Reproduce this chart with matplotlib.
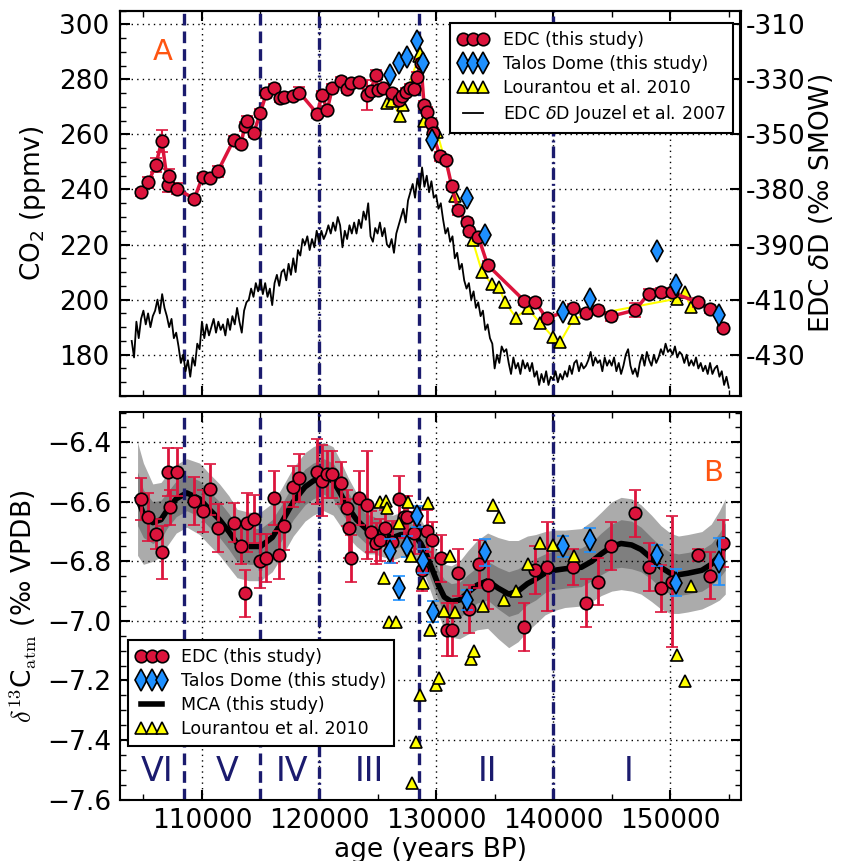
import numpy as np
import matplotlib
matplotlib.use('Agg')
import matplotlib.pyplot as plt
from matplotlib.ticker import MultipleLocator, FixedLocator
from matplotlib.lines import Line2D

# ---------------- Panel A data: CO2 ----------------
edc_co2_age = [104780, 105430, 106060, 106575, 107090, 107200, 107860, 109340, 110050, 110650,
               111370, 112710, 113340, 113650, 113850, 114420, 114990, 115500, 116130, 116640,
               117050, 117790, 118330, 119850, 120240, 120700, 121130, 121900, 122410, 122700,
               123450, 124070, 124410, 124840, 125000, 125500, 126270, 126840, 127120, 127410,
               127780, 128120, 128350, 128700, 128970, 129200, 129550, 129700, 130340, 130830,
               131340, 131890, 132630, 132830, 133600, 134400, 137530, 138480, 139450, 141730,
               142820, 143870, 144900, 147010, 148150, 149240, 150150, 152380, 153370, 154520]
edc_co2 = [239.0, 242.6, 249.0, 257.7, 241.5, 245.0, 240.3, 236.6, 244.6, 244.2,
           246.7, 258.0, 256.6, 262.9, 264.7, 260.5, 267.9, 274.9, 276.7, 273.1,
           273.5, 274.0, 275.2, 267.5, 274.3, 268.9, 276.7, 279.4, 276.4, 278.8,
           279.1, 274.3, 275.9, 281.5, 276.0, 276.7, 275.0, 272.5, 274.0, 275.5,
           276.7, 276.5, 281.0, 285.8, 270.7, 268.3, 264.1, 260.5, 252.0, 250.8,
           241.2, 232.4, 228.1, 224.9, 222.9, 212.6, 199.6, 199.0, 193.2, 196.8,
           195.0, 196.2, 193.9, 196.2, 202.2, 202.8, 202.6, 199.0, 196.6, 189.7]
edc_co2_err = [1.2, 2.0, 2.5, 4.0, 2.5, 2.5, 2.0, 1.5, 1.5, 1.5,
               2.0, 1.5, 1.5, 1.5, 2.0, 1.5, 1.5, 1.5, 1.5, 1.5,
               1.5, 1.5, 2.0, 1.5, 1.5, 1.5, 1.5, 1.5, 1.5, 1.5,
               1.5, 5.5, 1.5, 2.0, 1.5, 1.5, 1.5, 1.5, 1.5, 1.5,
               1.5, 1.5, 1.5, 1.5, 1.5, 1.5, 1.5, 1.5, 1.5, 1.5,
               1.5, 1.5, 1.5, 1.5, 1.5, 1.5, 1.5, 1.5, 1.5, 1.5,
               1.5, 1.5, 1.5, 2.5, 1.5, 1.5, 1.5, 1.5, 1.5, 1.5]

talos_co2_age = [126060, 126800, 127520, 128350, 128920, 129690, 132630, 134170,
                 140820, 143180, 148870, 150520, 154140]
talos_co2 = [281.5, 285.8, 288.1, 293.8, 285.8, 258.0, 237.0, 223.3,
             195.4, 200.2, 217.6, 205.2, 194.5]

lour_co2_age = [125840, 126250, 126920, 127210, 128500, 128640, 129000, 130060, 131630,
                133110, 133910, 134770, 135340, 135880, 136820, 137820, 138900, 139970,
                140590, 141760, 150610, 151240, 151750]
lour_co2 = [271.3, 272.0, 266.8, 270.7, 288.5, 289.5, 265.0, 261.0, 237.5,
            221.6, 210.2, 205.6, 204.6, 199.2, 193.5, 196.8, 191.5, 186.5,
            184.5, 193.2, 200.4, 202.8, 197.2]

# EDC deltaD (Jouzel et al. 2007), regular 0.2 ka sampling starting at 104.0 ka
dD_start_ka = 104.0
dD_step_ka = 0.2
dD = [-425, -431, -418, -424, -417,  -414, -419, -415, -420, -416,
      -414, -410, -415, -408, -413,  -416, -420, -417, -424, -422,
      -427, -433, -430, -436, -432,  -438, -431, -434, -426, -428,
      -418, -424, -419, -423, -420,  -417, -422, -418, -421, -419,
      -423, -417, -421, -416, -419,  -413, -418, -422, -414, -411,
      -410, -406, -409, -404, -407,  -403, -408, -404, -409, -406,
      -412, -404, -401, -405, -400,  -399, -403, -397, -401, -395,
      -400, -392, -394, -388, -390,  -387, -392, -388, -391, -385,
      -389, -385, -388, -386, -383,  -386, -382, -385, -380, -383,
      -391, -385, -388, -383, -386,  -382, -386, -381, -384, -378,
      -381, -375, -387, -389, -384,  -386, -382, -387, -384, -390,
      -391, -388, -393, -386, -383,  -380, -377, -382, -374, -371,
      -368, -373, -366, -370, -362,  -369, -365, -371, -367, -373,
      -372, -377, -375, -381, -386,  -384, -389, -387, -395, -393,
      -399, -397, -403, -406, -404,  -410, -407, -413, -411, -416,
      -414, -421, -419, -424, -426,  -435, -430, -433, -427, -429,
      -428, -433, -437, -431, -435,  -433, -437, -432, -435, -433,
      -436, -433, -438, -436, -441,  -437, -440, -436, -441, -438,
      -439, -436, -440, -437, -439,  -436, -438, -434, -437, -433,
      -432, -436, -433, -435, -434,  -432, -429, -434, -431, -433,
      -432, -436, -431, -434, -432,  -434, -431, -436, -433, -437,
      -434, -430, -428, -434, -437,  -435, -438, -433, -430, -434,
      -429, -432, -434, -430, -433,  -431, -428, -430, -426, -429,
      -428, -430, -427, -431, -429,  -430, -433, -430, -434, -432,
      -434, -431, -435, -433, -436,  -434, -437, -433, -437, -435,
      -434, -438, -436, -441, -438,  -442]

# ---------------- Panel B data: d13C ----------------
edc_d13_age = [104780, 105430, 106060, 106575, 107140, 107230, 107860, 109340, 110090, 110650,
               111370, 112710, 113360, 113650, 113850, 114420, 114990, 115500, 116130, 116620,
               117050, 117790, 118330, 119850, 120240, 120700, 121130, 121900, 122410, 122580,
               122760, 123410, 124070, 124410, 124840, 125210, 125610, 126270, 126830, 127260,
               127550, 128120, 128820, 129200, 129690, 130400, 130920, 131340, 131890, 132830,
               133690, 134460, 137540, 138480, 139450, 141730, 142820, 143870, 144900, 147010,
               148150, 149240, 150150, 152380, 153370, 154520]
edc_d13 = [-6.591, -6.650, -6.709, -6.770, -6.499, -6.619, -6.499, -6.597, -6.630, -6.558,
           -6.689, -6.670, -6.749, -6.908, -6.670, -6.658, -6.799, -6.788, -6.588, -6.779,
           -6.681, -6.549, -6.519, -6.499, -6.529, -6.508, -6.508, -6.536, -6.620, -6.689,
           -6.790, -6.588, -6.611, -6.700, -6.740, -6.728, -6.689, -6.734, -6.592, -6.650,
           -6.650, -6.704, -6.829, -6.697, -6.728, -6.790, -7.029, -7.029, -6.838, -6.960,
           -6.809, -6.880, -7.020, -6.829, -6.818, -6.820, -6.939, -6.868, -6.748, -6.639,
           -6.818, -6.891, -6.868, -6.779, -6.848, -6.740]
edc_d13_err = [0.07, 0.08, 0.05, 0.09, 0.08, 0.06, 0.08, 0.08, 0.07, 0.085,
               0.08, 0.065, 0.06, 0.08, 0.10, 0.08, 0.09, 0.08, 0.09, 0.08,
               0.08, 0.07, 0.08, 0.11, 0.12, 0.08, 0.08, 0.07, 0.06, 0.10,
               0.08, 0.09, 0.18, 0.07, 0.07, 0.07, 0.06, 0.07, 0.08, 0.07,
               0.07, 0.07, 0.07, 0.07, 0.06, 0.08, 0.09, 0.09, 0.08, 0.08,
               0.08, 0.08, 0.08, 0.08, 0.15, 0.06, 0.08, 0.08, 0.08, 0.08,
               0.08, 0.08, 0.22, 0.02, 0.08, 0.08]

talos_d13_age = [126070, 126830, 127550, 128350, 128920, 129720, 132660, 134170,
                 140820, 143180, 148870, 150520, 154140]
talos_d13 = [-6.765, -6.889, -6.749, -6.649, -6.798, -6.969, -6.930, -6.770,
             -6.749, -6.728, -6.779, -6.872, -6.801]
talos_d13_err = [0.04, 0.04, 0.035, 0.035, 0.04, 0.035, 0.035, 0.045,
                 0.035, 0.04, 0.035, 0.045, 0.08]

lour_d13_age = [125210, 125550, 125700, 125840, 125990, 126550, 126830, 127610, 127840, 127980,
                128270, 128640, 128920, 129270, 129490, 129980, 130260, 130690, 131210, 131630,
                132980, 133260, 133970, 134830, 135340, 135820, 136820, 137820, 138900, 139970,
                141760, 150610, 151240, 151750]
lour_d13 = [-6.600, -6.857, -6.596, -6.622, -7.003, -7.003, -6.672, -6.600, -6.782, -7.543,
            -7.406, -7.249, -6.874, -6.603, -7.031, -7.216, -7.193, -6.966, -6.781, -6.969,
            -7.128, -7.100, -6.950, -6.611, -6.650, -6.930, -6.899, -6.810, -6.740, -6.745,
            -6.781, -7.113, -7.201, -6.882]

# MCA spline with 1-sigma / 2-sigma envelopes
mca_age = [104500, 105000, 105800, 106500, 107000, 107800, 108700, 109800, 110500, 111500,
           112300, 113000, 114000, 115000, 116000, 116800, 117800, 118800, 119500, 120400,
           121200, 121800, 122500, 123200, 124000, 124700, 125500, 126300, 127000, 127700,
           128300, 128700, 129200, 129700, 130200, 130700, 131300, 132000, 132700, 133500,
           134400, 135300, 136200, 137000, 137800, 138500, 139300, 140100, 141000, 142400,
           143300, 144100, 145000, 145800, 146700, 147500, 148400, 149200, 150000, 150700,
           151500, 152700, 153500, 154200, 154700]
mca = [-6.59, -6.64, -6.67, -6.66, -6.63, -6.59, -6.57, -6.59, -6.62, -6.66,
       -6.70, -6.74, -6.75, -6.75, -6.72, -6.67, -6.60, -6.55, -6.53, -6.515,
       -6.53, -6.57, -6.62, -6.66, -6.69, -6.695, -6.71, -6.72, -6.71, -6.71,
       -6.72, -6.74, -6.78, -6.83, -6.88, -6.92, -6.935, -6.93, -6.905, -6.88,
       -6.865, -6.89, -6.91, -6.90, -6.875, -6.86, -6.84, -6.83, -6.825, -6.82,
       -6.80, -6.775, -6.75, -6.74, -6.745, -6.76, -6.79, -6.82, -6.84, -6.845,
       -6.84, -6.83, -6.81, -6.78, -6.75]
mca_inner = [0.09, 0.08, 0.07, 0.065, 0.06, 0.06, 0.06, 0.06, 0.06, 0.06,
             0.06, 0.06, 0.06, 0.06, 0.06, 0.06, 0.06, 0.06, 0.06, 0.06,
             0.06, 0.06, 0.05, 0.05, 0.05, 0.045, 0.04, 0.04, 0.04, 0.04,
             0.04, 0.04, 0.045, 0.05, 0.05, 0.06, 0.06, 0.06, 0.06, 0.06,
             0.065, 0.07, 0.075, 0.075, 0.07, 0.07, 0.065, 0.065, 0.065, 0.065,
             0.065, 0.07, 0.075, 0.08, 0.08, 0.075, 0.07, 0.07, 0.07, 0.07,
             0.07, 0.07, 0.07, 0.075, 0.08]
mca_outer = [0.19, 0.17, 0.13, 0.125, 0.12, 0.115, 0.115, 0.12, 0.12, 0.12,
             0.12, 0.115, 0.115, 0.115, 0.115, 0.115, 0.115, 0.115, 0.115, 0.115,
             0.115, 0.11, 0.10, 0.09, 0.085, 0.08, 0.075, 0.075, 0.075, 0.075,
             0.075, 0.08, 0.085, 0.09, 0.10, 0.11, 0.12, 0.13, 0.14, 0.15,
             0.16, 0.17, 0.18, 0.17, 0.16, 0.15, 0.14, 0.135, 0.13, 0.13,
             0.135, 0.14, 0.15, 0.155, 0.155, 0.15, 0.145, 0.14, 0.135, 0.13,
             0.13, 0.13, 0.135, 0.15, 0.16]

# Boundaries and stage labels
bound_dashed = [108500, 115000, 128500]
bound_dashdot = [120000, 140000]
stage_labels = ['VI', 'V', 'IV', 'III', 'II', 'I']
stage_pos = [106150, 112150, 117730, 124320, 134400, 146460]

right_ticks = [-310, -330, -350, -370, -390, -410, -430]
right_ticklabels = ['-310', '-330', '-350', '-380', '-390', '-410', '-430']

# ---------------- styling ----------------
RED = '#DC143C'
BLUE = '#1E90FF'
YEL = '#FFFF00'
NAVY = '#1b1b6e'
ORANGE = '#FF5511'
TICK_FS = 19
LEG_FS = 12.5

plt.rcParams['font.family'] = ['DejaVu Sans']
plt.rcParams['mathtext.fontset'] = 'dejavusans'

fig = plt.figure(figsize=(8.41, 8.61), dpi=100)
ax1 = fig.add_axes([120 / 841, 1 - 396 / 861, 620.5 / 841, 385.5 / 861])
ax2 = fig.add_axes([120 / 841, 1 - 799.5 / 861, 620.5 / 841, 387 / 861])
ax1r = ax1.twinx()

grid_kw = dict(color='k', linestyle=(0, (1, 3)), linewidth=1.0)

# ---------- Panel A ----------
ax1.errorbar(lour_co2_age, lour_co2, fmt='-^', color=YEL, lw=1.5, ms=9,
             mfc=YEL, mec='k', mew=1.2, zorder=3)
ax1.errorbar(edc_co2_age, edc_co2, yerr=edc_co2_err, fmt='-o', color=RED, lw=2.5,
             ms=9, mfc=RED, mec='k', mew=1.2, elinewidth=1.5, capsize=4, capthick=1.5,
             ecolor=RED, zorder=4)
ax1.plot(talos_co2_age, talos_co2, 'd', ms=11, mfc=BLUE, mec='k', mew=1.2,
         linestyle='none', zorder=5)

dD_age = [(dD_start_ka + i * dD_step_ka) * 1000 for i in range(len(dD))]
ax1r.plot(dD_age, dD, color='k', lw=1.3, zorder=2)

ax1.set_xlim(103000, 156000)
ax1.set_ylim(165, 305)
ax1r.set_ylim(-445, -305)
ax1.yaxis.set_major_locator(MultipleLocator(20))
ax1.yaxis.set_minor_locator(MultipleLocator(5))
ax1.xaxis.set_major_locator(MultipleLocator(10000))
ax1.xaxis.set_minor_locator(MultipleLocator(5000))
ax1r.set_yticks(right_ticks)
ax1r.set_yticklabels(right_ticklabels)
ax1.grid(True, which='major', **grid_kw)
ax1.set_ylabel('CO$_2$ (ppmv)', fontsize=TICK_FS, labelpad=8)
ax1r.set_ylabel(r'EDC $\delta$D (‰ SMOW)', fontsize=TICK_FS, labelpad=1)
ax1.text(0.069, 0.892, 'A', transform=ax1.transAxes, color=ORANGE, fontsize=21,
         ha='center', va='center')

ax1.tick_params(which='both', direction='in', top=True, right=False, labelbottom=False)
ax1.tick_params(which='major', length=7, width=1.5, labelsize=TICK_FS, pad=8)
ax1.tick_params(which='minor', length=4, width=1)
ax1r.tick_params(which='both', direction='in', right=True, left=False)
ax1r.tick_params(which='major', length=7, width=1.5, labelsize=TICK_FS, pad=4)

leg_handles_a = [
    Line2D([], [], marker='o', ls='none', ms=9, mfc=RED, mec='k', mew=1.2),
    Line2D([], [], marker='d', ls='none', ms=11, mfc=BLUE, mec='k', mew=1.2),
    Line2D([], [], marker='^', ls='none', ms=9, mfc=YEL, mec='k', mew=1.2),
    Line2D([], [], color='k', lw=1.3),
]
leg_a = ax1r.legend(leg_handles_a,
                    ['EDC (this study)', 'Talos Dome (this study)', 'Lourantou et al. 2010',
                     r'EDC $\delta$D Jouzel et al. 2007'],
                    loc='upper right', bbox_to_anchor=(0.988, 0.968), borderaxespad=0,
                    numpoints=3, fontsize=LEG_FS, fancybox=False, framealpha=1,
                    edgecolor='k', handlelength=1.8, handletextpad=0.8, labelspacing=0.35,
                    borderpad=0.45)
leg_a.get_frame().set_linewidth(1.5)
leg_a.set_zorder(20)

# ---------- Panel B ----------
mca_arr = np.array(mca)
inner = np.array(mca_inner)
outer = np.array(mca_outer)
ax2.fill_between(mca_age, mca_arr - outer, mca_arr + outer, color='#ababab', lw=0, zorder=1)
ax2.fill_between(mca_age, mca_arr - inner, mca_arr + inner, color='#7f7f7f', lw=0, zorder=1.2)
ax2.plot(mca_age, mca, color='k', lw=4, zorder=2)
ax2.errorbar(edc_d13_age, edc_d13, yerr=edc_d13_err, fmt='o', ms=9, mfc=RED, mec='k',
             mew=1.2, ecolor=RED, elinewidth=2, capsize=4.5, capthick=2, zorder=3)
ax2.errorbar(talos_d13_age, talos_d13, yerr=talos_d13_err, fmt='d', ms=11, mfc=BLUE,
             mec='k', mew=1.2, ecolor=BLUE, elinewidth=2, capsize=4.5, capthick=2, zorder=4)
ax2.plot(lour_d13_age, lour_d13, '^', ms=9, mfc=YEL, mec='k', mew=1.2, ls='none', zorder=5)

ax2.set_xlim(103000, 156000)
ax2.set_ylim(-7.6, -6.3)
ax2.yaxis.set_major_locator(FixedLocator([-7.6, -7.4, -7.2, -7.0, -6.8, -6.6, -6.4]))
ax2.yaxis.set_minor_locator(MultipleLocator(0.05))
ax2.xaxis.set_major_locator(MultipleLocator(10000))
ax2.xaxis.set_minor_locator(MultipleLocator(5000))
ax2.yaxis.set_major_formatter(matplotlib.ticker.FuncFormatter(
    lambda v, p: ('\u2212%.1f' % abs(v)) if v < 0 else '%.1f' % v))
ax2.grid(True, which='major', **grid_kw)
ax2.tick_params(which='both', direction='in', top=True, right=True)
ax2.tick_params(which='major', length=7, width=1.5, labelsize=TICK_FS, pad=6)
ax2.tick_params(which='minor', length=4, width=1)
ax2.set_xlabel('age (years BP)', fontsize=TICK_FS, labelpad=2)
ylab = ax2.set_ylabel(r'$\delta^{13}$C$_{\rm atm}$ (‰ VPDB)', fontsize=TICK_FS, labelpad=6)
ylab.set_math_fontfamily('cm')
ax2.text(0.956, 0.843, 'B', transform=ax2.transAxes, color=ORANGE, fontsize=21,
         ha='center', va='center')
for lab, pos in zip(stage_labels, stage_pos):
    ax2.text(pos, -7.505, lab, color=NAVY, fontsize=24, ha='center', va='center', zorder=6)

leg_handles_b = [
    Line2D([], [], marker='o', ls='none', ms=9, mfc=RED, mec='k', mew=1.2),
    Line2D([], [], marker='d', ls='none', ms=11, mfc=BLUE, mec='k', mew=1.2),
    Line2D([], [], color='k', lw=4),
    Line2D([], [], marker='^', ls='none', ms=9, mfc=YEL, mec='k', mew=1.2),
]
leg_b = ax2.legend(leg_handles_b,
                   ['EDC (this study)', 'Talos Dome (this study)', 'MCA (this study)',
                    'Lourantou et al. 2010'],
                   loc='lower left', bbox_to_anchor=(0.013, 0.138), borderaxespad=0,
                   numpoints=3, fontsize=LEG_FS, fancybox=False, framealpha=1,
                   edgecolor='k', handlelength=1.8, handletextpad=0.8, labelspacing=0.35,
                   borderpad=0.45)
leg_b.get_frame().set_linewidth(1.5)
leg_b.set_zorder(20)

# boundaries
for ax in (ax1, ax2):
    for b in bound_dashed:
        ax.axvline(b, color=NAVY, lw=2.4, dashes=(3.5, 1.8), zorder=2.5)
    for b in bound_dashdot:
        ax.axvline(b, color=NAVY, lw=2.4, dashes=(3.5, 1.2, 0.6, 1.2), zorder=2.5)
    for s in ax.spines.values():
        s.set_linewidth(1.5)
for s in ax1r.spines.values():
    s.set_linewidth(1.5)

fig.savefig('out.png', dpi=100)
